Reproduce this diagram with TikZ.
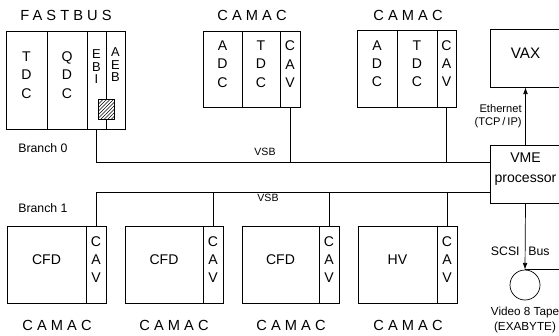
\documentclass[tikz,border=0pt]{standalone}
\usepackage{fontspec}
\setmainfont{Liberation Sans}
\usetikzlibrary{positioning,arrows.meta,fit,patterns}

\begin{document}
\begin{tikzpicture}[x=0.03cm, y=-0.03cm,
    line width=0.6pt,
    mod/.style={draw, rectangle, inner sep=0pt, align=center,
      font=\fontsize{12}{15.5}\selectfont},
    slim/.style={inner sep=0pt, align=center, font=\fontsize{11}{11}\selectfont},
    crate/.style={font=\fontsize{12.5}{14}\selectfont\addfontfeature{LetterSpace=28}},
    lbl/.style={inner sep=0pt, font=\fontsize{10.5}{12.5}\selectfont},
    vsb/.style={inner sep=0pt, font=\fontsize{9}{10}\selectfont},
    link/.style={-{Latex[length=2mm,width=1.4mm]}},
  ]
  \useasboundingbox (0,0) rectangle (559,336);
  \clip (0,0) rectangle (559,336);

  % FASTBUS crate
  \node[crate] (fbname) at (66,15) {FASTBUS};
  \node[mod, fit={(6,31) (47,129)}]   (tdcf) {T\\D\\C};
  \node[mod, fit={(47,31) (87,129)}]  (qdcf) {Q\\D\\C};
  \node[mod, fit={(87,31) (106,129)}] (ebi)  {};
  \node[mod, fit={(106,31) (125,129)}] (aeb) {};
  \node[slim, anchor=north] (ebitxt) at (96.5,49) {E\\B\\I};
  \node[slim, anchor=north] (aebtxt) at (115.5,47) {A\\E\\B};
  \node[draw, fill=white, postaction={pattern=north east lines}, inner sep=0pt,
    fit={(98,99) (114,119)}] (chip) {};

  % CAMAC crates, top row
  \node[crate] (camt1) at (252,15) {CAMAC};
  \node[mod, fit={(203,31) (242,107)}] (adct1) {A\\D\\C};
  \node[mod, fit={(242,31) (280,107)}] (tdct1) {T\\D\\C};
  \node[mod, fit={(280,31) (300,107)}] (cavt1) {C\\A\\V};

  \node[crate] (camt2) at (408,15) {CAMAC};
  \node[mod, fit={(357,30) (397,107)}] (adct2) {A\\D\\C};
  \node[mod, fit={(397,30) (437,107)}] (tdct2) {T\\D\\C};
  \node[mod, fit={(437,30) (456,107)}] (cavt2) {C\\A\\V};

  % host side
  \node[mod, fit={(490,29) (561,87)}, font=\fontsize{13}{15}\selectfont] (vax) {VAX};
  \node[mod, fit={(490,145) (561,203)}, font=\fontsize{12}{17}\selectfont] (vme) {VME\\processor};
  \node[draw, circle, inner sep=0pt, minimum size=0.9cm] (tape) at (525,285) {};

  % CAMAC crates, bottom row
  \node[mod, fit={(7,226) (86,303)}]    (cfd1)  {CFD};
  \node[mod, fit={(86,226) (106,303)}]  (cavb1) {C\\A\\V};
  \node[mod, fit={(125,226) (203,303)}] (cfd2)  {CFD};
  \node[mod, fit={(203,226) (223,303)}] (cavb2) {C\\A\\V};
  \node[mod, fit={(242,226) (319,303)}] (cfd3)  {CFD};
  \node[mod, fit={(319,226) (339,303)}] (cavb3) {C\\A\\V};
  \node[mod, fit={(358,226) (437,303)}] (hv)    {HV};
  \node[mod, fit={(437,226) (457,303)}] (cavb4) {C\\A\\V};
  \node[crate] (camb1) at (57,325)  {CAMAC};
  \node[crate] (camb2) at (174,325) {CAMAC};
  \node[crate] (camb3) at (291,325) {CAMAC};
  \node[crate] (camb4) at (408,325) {CAMAC};

  % branch 0
  \coordinate (b0) at (490,162);
  \draw (ebi.south) |- (b0);
  \draw (cavt1.south) -- (cavt1.south |- b0);
  \draw (cavt2.south) -- (cavt2.south |- b0);
  \node[lbl, anchor=west] (br0) at (18,148) {Branch 0};
  \node[vsb] (vsb0) at (265,152) {VSB};

  % branch 1
  \coordinate (b1) at (490,192);
  \draw (cavb1.north) |- (b1);
  \draw (cavb2.north) -- (cavb2.north |- b1);
  \draw (cavb3.north) -- (cavb3.north |- b1);
  \draw (cavb4.north) -- (cavb4.north |- b1);
  \node[lbl, anchor=west] (br1) at (18,208) {Branch 1};
  \node[vsb] (vsb1) at (268,198) {VSB};

  % links to VAX and tape
  \draw[link] (vme.north) -- node[lbl, left=3pt, align=right, font=\fontsize{9.5}{11}\selectfont] (eth) {Ethernet\\(TCP\,/\,IP)} (vax.south);
  \draw[link] (vme.south) -- (tape.north);
  \draw (tape.north) -- ++(40,0) coordinate (reel);
  \node[lbl, anchor=east] (scsi) at (520,251) {SCSI};
  \node[lbl, anchor=west] (bus) at (528,251) {Bus};
  \node[lbl, align=center, font=\fontsize{10}{12.5}\selectfont] (tapetxt) at (525,320) {Video 8 Tape\\(EXABYTE)};
\end{tikzpicture}
\end{document}
